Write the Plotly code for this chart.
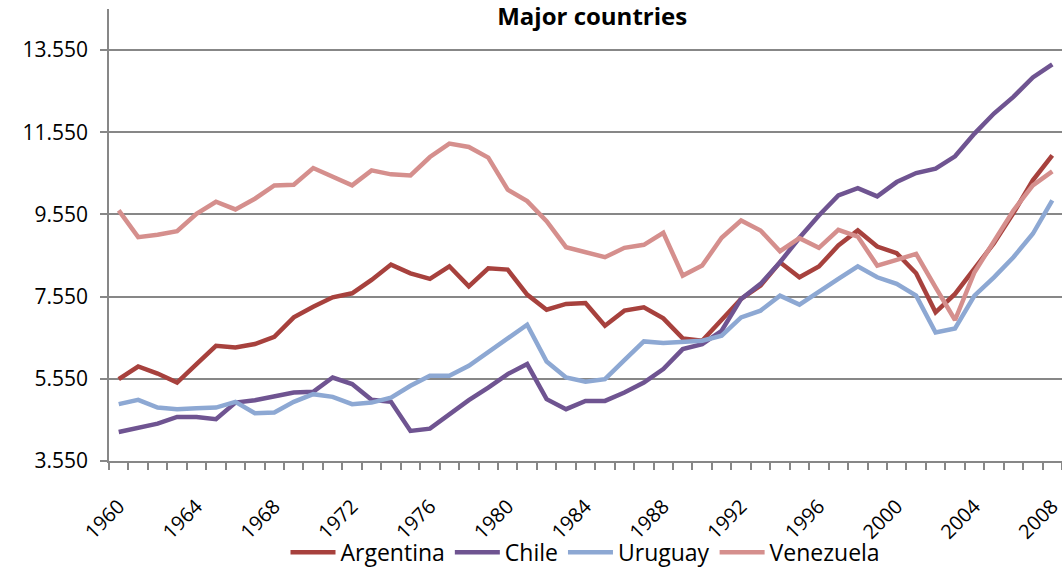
import plotly.graph_objects as go

years = list(range(1960, 2009))

argentina = [5543, 5850, 5679, 5460, 5909, 6355, 6313, 6396, 6574, 7045,
             7306, 7533, 7631, 7957, 8330, 8118, 7982, 8289, 7801, 8240,
             8208, 7599, 7233, 7372, 7396, 6843, 7209, 7289, 7021, 6533,
             6477, 7000, 7494, 7818, 8387, 8021, 8282, 8794, 9160, 8769,
             8606, 8118, 7167, 7616, 8226, 8850, 9582, 10379, 10989]

chile = [4257, 4362, 4460, 4623, 4623, 4567, 4972, 5030, 5111, 5216,
         5233, 5582, 5421, 5038, 4989, 4282, 4338, 4689, 5030, 5338,
         5665, 5909, 5055, 4811, 5013, 5013, 5216, 5460, 5787, 6274,
         6396, 6720, 7494, 7860, 8387, 8982, 9526, 10013, 10191, 9989,
         10338, 10557, 10665, 10965, 11518, 12006, 12411, 12884, 13201]

uruguay = [4933, 5038, 4850, 4811, 4835, 4850, 4989, 4713, 4728, 4989,
           5177, 5111, 4933, 4972, 5094, 5379, 5623, 5623, 5867, 6191,
           6533, 6867, 5972, 5582, 5477, 5543, 6006, 6460, 6421, 6460,
           6477, 6599, 7045, 7209, 7574, 7355, 7655, 7982, 8289, 8021,
           7860, 7574, 6679, 6777, 7574, 8021, 8509, 9079, 9891]

venezuela = [9648, 8997, 9055, 9143, 9567, 9860, 9672, 9933, 10257, 10274,
             10679, 10460, 10257, 10623, 10526, 10501, 10948, 11274, 11192, 10933,
             10152, 9875, 9387, 8753, 8631, 8509, 8738, 8811, 9104, 8062,
             8306, 8982, 9404, 9160, 8655, 8972, 8738, 9177, 9013, 8306,
             8445, 8591, 7777, 6982, 8143, 8899, 9648, 10257, 10599]

series = [
    ("Argentina", argentina, "#A7413D"),
    ("Chile", chile, "#6F5491"),
    ("Uruguay", uruguay, "#8DA8D3"),
    ("Venezuela", venezuela, "#D58F8D"),
]

y_ticks = [3550, 5550, 7550, 9550, 11550, 13550]
y_labels = ["3.550", "5.550", "7.550", "9.550", "11.550", "13.550"]
x_ticks = list(range(1960, 2009, 4))

FONT = "Open Sans"
GRID = "#878787"

fig = go.Figure()
for name, vals, color in series:
    fig.add_trace(go.Scatter(
        x=years, y=vals, name=name, mode="lines",
        line=dict(color=color, width=4.5),
    ))

fig.update_layout(
    width=1062, height=567,
    margin=dict(l=109, r=0, t=9, b=106, autoexpand=False),
    paper_bgcolor="white", plot_bgcolor="white",
    font=dict(family=FONT, size=21, color="#000000"),
    title=dict(text="<b>Major countries</b>", x=0.507, xref="paper",
               y=1 - 17 / 567, yref="container", xanchor="center", yanchor="middle",
               font=dict(family=FONT, size=24, color="#000000")),
    legend=dict(orientation="h", x=0.5, xanchor="center", xref="paper",
                y=-0.202, yanchor="middle", font=dict(family=FONT, size=23),
                itemwidth=45, tracegroupgap=0,
                bgcolor="rgba(0,0,0,0)"),
    showlegend=True,
)

fig.update_xaxes(
    range=[1959.5, 2008.5], automargin=False,
    tickmode="array", tickvals=x_ticks, ticktext=[str(v) for v in x_ticks],
    tickangle=-45, ticks="", showgrid=False, ticklabelstandoff=24,
    ticklabeloverflow="allow",
    showline=True, linecolor=GRID, linewidth=1.5,
    tickfont=dict(family=FONT, size=20),
    minor=dict(tick0=1959.5, dtick=1, ticks="outside", ticklen=7,
               tickcolor=GRID, tickwidth=1.5, showgrid=False),
    zeroline=False,
)

fig.update_yaxes(
    range=[3550, 14550], automargin=False,
    tickmode="array", tickvals=y_ticks, ticktext=y_labels,
    ticks="outside", ticklen=7, tickcolor=GRID, tickwidth=1.5,
    showgrid=True, gridcolor=GRID, gridwidth=1.5,
    showline=True, linecolor=GRID, linewidth=1.5,
    tickfont=dict(family=FONT, size=21),
    ticklabelstandoff=8,
    zeroline=False,
)

fig.write_html("out.html")
